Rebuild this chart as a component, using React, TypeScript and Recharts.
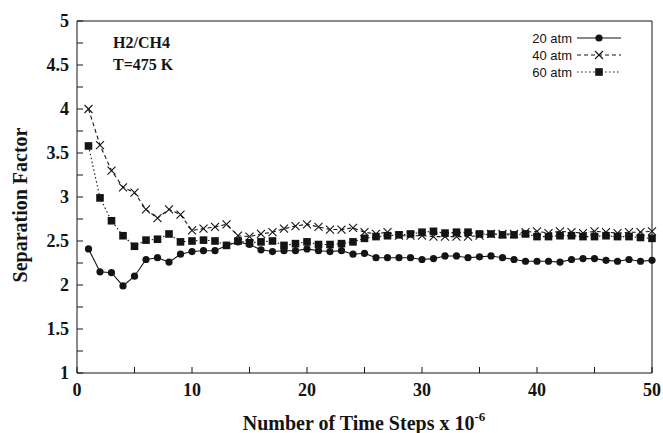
import React from 'react'
import { LineChart, Line, XAxis, YAxis, ReferenceLine } from 'recharts'

// time steps (x 10^-6)
const steps = [
  1, 2, 3, 4, 5, 6, 7, 8, 9, 10,
  11, 12, 13, 14, 15, 16, 17, 18, 19, 20,
  21, 22, 23, 24, 25, 26, 27, 28, 29, 30,
  31, 32, 33, 34, 35, 36, 37, 38, 39, 40,
  41, 42, 43, 44, 45, 46, 47, 48, 49, 50,
]

const sep20 = [
  2.41, 2.15, 2.14, 1.99, 2.10, 2.29, 2.31, 2.26, 2.35, 2.38,
  2.39, 2.39, 2.45, 2.49, 2.46, 2.40, 2.38, 2.39, 2.39, 2.41,
  2.39, 2.38, 2.39, 2.35, 2.36, 2.31, 2.31, 2.31, 2.31, 2.29,
  2.30, 2.33, 2.33, 2.31, 2.32, 2.33, 2.31, 2.29, 2.27, 2.27,
  2.27, 2.26, 2.29, 2.30, 2.30, 2.28, 2.27, 2.29, 2.27, 2.28,
]

const sep40 = [
  4.00, 3.59, 3.30, 3.11, 3.05, 2.86, 2.76, 2.86, 2.80, 2.62,
  2.64, 2.66, 2.69, 2.56, 2.55, 2.58, 2.60, 2.64, 2.67, 2.69,
  2.66, 2.63, 2.63, 2.65, 2.60, 2.58, 2.60, 2.56, 2.56, 2.56,
  2.55, 2.55, 2.55, 2.55, 2.56, 2.58, 2.58, 2.58, 2.60, 2.61,
  2.59, 2.61, 2.60, 2.59, 2.61, 2.60, 2.59, 2.60, 2.60, 2.61,
]

const sep60 = [
  3.58, 2.99, 2.73, 2.56, 2.44, 2.51, 2.52, 2.58, 2.49, 2.50,
  2.51, 2.50, 2.45, 2.50, 2.48, 2.49, 2.50, 2.45, 2.47, 2.49,
  2.46, 2.46, 2.47, 2.49, 2.53, 2.55, 2.56, 2.57, 2.58, 2.60,
  2.61, 2.59, 2.60, 2.60, 2.58, 2.58, 2.57, 2.57, 2.58, 2.55,
  2.55, 2.56, 2.56, 2.55, 2.55, 2.56, 2.55, 2.55, 2.54, 2.53,
]

const xTicks = [0, 5, 10, 15, 20, 25, 30, 35, 40, 45, 50]
const yTicks = [1, 1.25, 1.5, 1.75, 2, 2.25, 2.5, 2.75, 3, 3.25, 3.5, 3.75, 4, 4.25, 4.5, 4.75, 5]

const legendItems = ['20 atm', '40 atm', '60 atm']

const data = steps.map((s, i) => ({ step: s, p20: sep20[i], p40: sep40[i], p60: sep60[i] }))

const INK = '#141414'
const SERIF = '"Liberation Serif", "Times New Roman", serif'
const SANS = '"Liberation Sans", Arial, sans-serif'
const tickFont = { fontFamily: SERIF, fontWeight: 'bold' as const, fontSize: 18 }

const XTick = ({ x, y, payload }: any) => {
  const v = payload.value
  return (
    <g>
      <line x1={x} x2={x} y1={y - 10} y2={y - 16} stroke={INK} />
      {v % 10 === 0 && (
        <text x={x} y={y + 13} textAnchor="middle" style={tickFont} fill={INK}>
          {v}
        </text>
      )}
    </g>
  )
}

const YTick = ({ x, y, payload }: any) => {
  const v = payload.value
  return (
    <g>
      <line x1={x + 8} x2={x + 14} y1={y} y2={y} stroke={INK} />
      {Number.isInteger(v * 2) && (
        <text x={x} y={y + 6} textAnchor="end" style={tickFont} fill={INK}>
          {v}
        </text>
      )}
    </g>
  )
}

const Circ = ({ cx, cy }: any) => (cx == null ? null : <circle cx={cx} cy={cy} r={3.6} fill={INK} />)
const Sq = ({ cx, cy }: any) => (cx == null ? null : <rect x={cx - 3.8} y={cy - 3.8} width={7.6} height={7.6} fill={INK} />)
const Cross = ({ cx, cy }: any) =>
  cx == null ? null : (
    <path d={`M${cx - 4},${cy - 4}L${cx + 4},${cy + 4}M${cx + 4},${cy - 4}L${cx - 4},${cy + 4}`} stroke={INK} strokeWidth={1.1} />
  )

const dashes = [undefined, '4 3', '1.5 2.5']

export default function App() {
  return (
    <div style={{ position: 'absolute', left: 0, top: 0, width: 663, height: 433, background: '#fff' }}>
      <LineChart width={663} height={433} data={data} margin={{ top: 21, right: 11, bottom: 35, left: 17 }}>
        <XAxis dataKey="step" type="number" domain={[0, 50]} ticks={xTicks} interval={0}
          tick={(p: any) => <XTick {...p} />} tickSize={0} tickMargin={10} tickLine={false}
          axisLine={{ stroke: INK }} height={25} />
        <YAxis type="number" domain={[1, 5]} ticks={yTicks} interval={0}
          tick={(p: any) => <YTick {...p} />} tickSize={0} tickMargin={8} tickLine={false}
          axisLine={{ stroke: INK }} width={60} />
        <ReferenceLine y={5} stroke={INK} />
        <ReferenceLine x={50} stroke={INK} />
        <Line dataKey="p60" type="linear" stroke={INK} strokeWidth={1.1} strokeDasharray="1.5 2.5" dot={(p: any) => <Sq key={p.index} {...p} />} isAnimationActive={false} />
        <Line dataKey="p40" type="linear" stroke={INK} strokeWidth={1.1} strokeDasharray="4 3" dot={(p: any) => <Cross key={p.index} {...p} />} isAnimationActive={false} />
        <Line dataKey="p20" type="linear" stroke={INK} strokeWidth={1.1} dot={(p: any) => <Circ key={p.index} {...p} />} isAnimationActive={false} />
      </LineChart>
      <svg width={663} height={433} style={{ position: 'absolute', left: 0, top: 0, pointerEvents: 'none' }}>
        <text x={27} y={205} transform="rotate(-90 27 205)" textAnchor="middle" fontFamily={SERIF} fontWeight="bold" fontSize={20} fill={INK}>
          Separation Factor
        </text>
        <text x={364} y={430} textAnchor="middle" fontFamily={SERIF} fontWeight="bold" fontSize={20} fill={INK}>
          Number of Time Steps x 10
          <tspan fontSize={13} dy={-9}>-6</tspan>
        </text>
        <text x={113} y={48} fontFamily={SERIF} fontWeight="bold" fontSize={16} fill={INK}>H2/CH4</text>
        <text x={113} y={70} fontFamily={SERIF} fontWeight="bold" fontSize={16} fill={INK}>T=475 K</text>
        {legendItems.map((name, i) => {
          const cy = 38 + i * 17
          return (
            <g key={name}>
              <text x={572} y={cy + 4.5} textAnchor="end" fontFamily={SANS} fontSize={13} fill={INK}>{name}</text>
              <line x1={577} x2={621} y1={cy} y2={cy} stroke={INK} strokeWidth={1.1} strokeDasharray={dashes[i]} />
              {i === 0 && <Circ cx={599} cy={cy} />}
              {i === 1 && <Cross cx={599} cy={cy} />}
              {i === 2 && <Sq cx={599} cy={cy} />}
            </g>
          )
        })}
      </svg>
    </div>
  )
}
